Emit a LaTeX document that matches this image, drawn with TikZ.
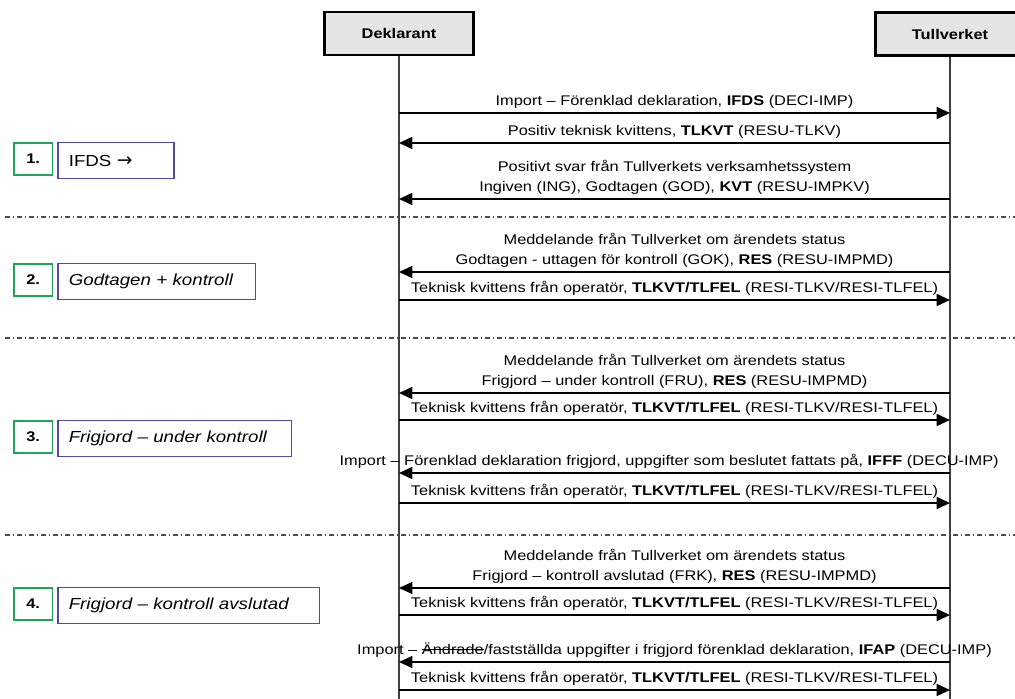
\documentclass[tikz,border=0pt]{standalone}
\usepackage{fontspec}
\setmainfont{Liberation Sans}[FakeStretch=1.17]
\newfontfamily\pilfont{DejaVu Sans}
\usetikzlibrary{arrows.meta,positioning}

\definecolor{headgray}{RGB}{229,229,229}
\definecolor{stepgreen}{RGB}{34,163,90}
\definecolor{phaseblue}{RGB}{84,72,165}

% overstruken text
\newcommand\strk[1]{\setbox0\hbox{#1}\rlap{\rule[0.3em]{\wd0}{0.6pt}}\box0}

\tikzset{
  head/.style={draw=black,line width=1.8pt,fill=headgray,minimum width=112pt,
    minimum height=32pt,font=\fontsize{10.5}{12}\selectfont\bfseries},
  life/.style={line width=1.1pt,black!75},
  msg/.style={line width=1.1pt,-{Triangle[length=10pt,width=9pt]}},
  lbl/.style={font=\fontsize{10.5}{15}\selectfont,align=center,
    inner xsep=1pt,inner ysep=3pt,above},
  sep/.style={black!70,line width=0.8pt,dash pattern=on 4pt off 2pt on 1pt off 2pt},
  stepnr/.style={draw=stepgreen,line width=1.3pt,minimum width=29pt,minimum height=24pt,
    inner sep=0pt,font=\fontsize{10.5}{11}\selectfont\bfseries,anchor=north west},
  phase/.style={draw=phaseblue,line width=1.1pt,minimum height=27pt,inner xsep=8pt,
    align=left,font=\fontsize{12}{14}\selectfont\itshape,anchor=north west},
}

\begin{document}
\begin{tikzpicture}[x=0.75pt,y=-0.75pt]
  \useasboundingbox (0,0) rectangle (1015,699);
  % aktorer
  \node[head] (dek) at (399,33.5) {Deklarant};
  \node[head] (tull) at (950,34) {Tullverket};
  \coordinate (dekend) at (399,699);
  \coordinate (tullend) at (950,699);
  \draw[life] (dek) -- (dekend);
  \draw[life] (tull) -- (tullend);
  % meddelandepunkter
  \foreach \m/\y in {1/113,2/143,3/199,4/272,5/300,6/393,7/420,
                     8/473,9/503,10/588,11/615,12/662,13/690}{
    \coordinate (d\m) at (399,\y);
    \coordinate (t\m) at (950,\y);
  }
  % avgransning mellan stegen
  \foreach \y in {217,338,535}
    \draw[sep] (5,\y) -- (1015,\y);
  % steg 1
  \draw[msg] (d1) -- (t1) node[lbl,midway]
    {Import – Förenklad deklaration, \textbf{IFDS} (DECI-IMP)};
  \draw[msg] (t2) -- (d2) node[lbl,midway]
    {Positiv teknisk kvittens, \textbf{TLKVT} (RESU-TLKV)};
  \draw[msg] (t3) -- (d3) node[lbl,midway]
    {Positivt svar från Tullverkets verksamhetssystem\\
     Ingiven (ING), Godtagen (GOD), \textbf{KVT} (RESU-IMPKV)};
  % steg 2
  \draw[msg] (t4) -- (d4) node[lbl,midway]
    {Meddelande från Tullverket om ärendets status\\
     Godtagen - uttagen för kontroll (GOK), \textbf{RES} (RESU-IMPMD)};
  \draw[msg] (d5) -- (t5) node[lbl,midway]
    {Teknisk kvittens från operatör, \textbf{TLKVT/TLFEL} (RESI-TLKV/RESI-TLFEL)};
  % steg 3
  \draw[msg] (t6) -- (d6) node[lbl,midway]
    {Meddelande från Tullverket om ärendets status\\
     Frigjord – under kontroll (FRU), \textbf{RES} (RESU-IMPMD)};
  \draw[msg] (d7) -- (t7) node[lbl,midway]
    {Teknisk kvittens från operatör, \textbf{TLKVT/TLFEL} (RESI-TLKV/RESI-TLFEL)};
  \draw[msg] (t8) -- (d8) node[lbl,midway,xshift=-4pt]
    {Import – Förenklad deklaration frigjord, uppgifter som beslutet fattats på, \textbf{IFFF} (DECU-IMP)};
  \draw[msg] (d9) -- (t9) node[lbl,midway]
    {Teknisk kvittens från operatör, \textbf{TLKVT/TLFEL} (RESI-TLKV/RESI-TLFEL)};
  % steg 4
  \draw[msg] (t10) -- (d10) node[lbl,midway]
    {Meddelande från Tullverket om ärendets status\\
     Frigjord – kontroll avslutad (FRK), \textbf{RES} (RESU-IMPMD)};
  \draw[msg] (d11) -- (t11) node[lbl,midway]
    {Teknisk kvittens från operatör, \textbf{TLKVT/TLFEL} (RESI-TLKV/RESI-TLFEL)};
  \draw[msg] (t12) -- (d12) node[lbl,midway]
    {Import – \strk{Ändrade}/fastställda uppgifter i frigjord förenklad deklaration, \textbf{IFAP} (DECU-IMP)};
  \draw[msg] (d13) -- (t13) node[lbl,midway]
    {Teknisk kvittens från operatör, \textbf{TLKVT/TLFEL} (RESI-TLKV/RESI-TLFEL)};
  % stegrutor till vanster
  \node[stepnr] (n1) at (13,142) {1.};
  \node[phase,text width=71pt] (p1) at ([xshift=3pt]n1.north east)
    {\upshape IFDS {\pilfont\fontsize{14}{14}\selectfont →}};
  \node[stepnr] (n2) at (13,263) {2.};
  \node[phase,text width=132pt] (p2) at ([xshift=3pt]n2.north east) {Godtagen + kontroll};
  \node[stepnr] (n3) at (13,420) {3.};
  \node[phase,text width=159pt] (p3) at ([xshift=3pt]n3.north east) {Frigjord – under kontroll};
  \node[stepnr] (n4) at (13,587) {4.};
  \node[phase,text width=180pt] (p4) at ([xshift=3pt]n4.north east) {Frigjord – kontroll avslutad};
\end{tikzpicture}
\end{document}
